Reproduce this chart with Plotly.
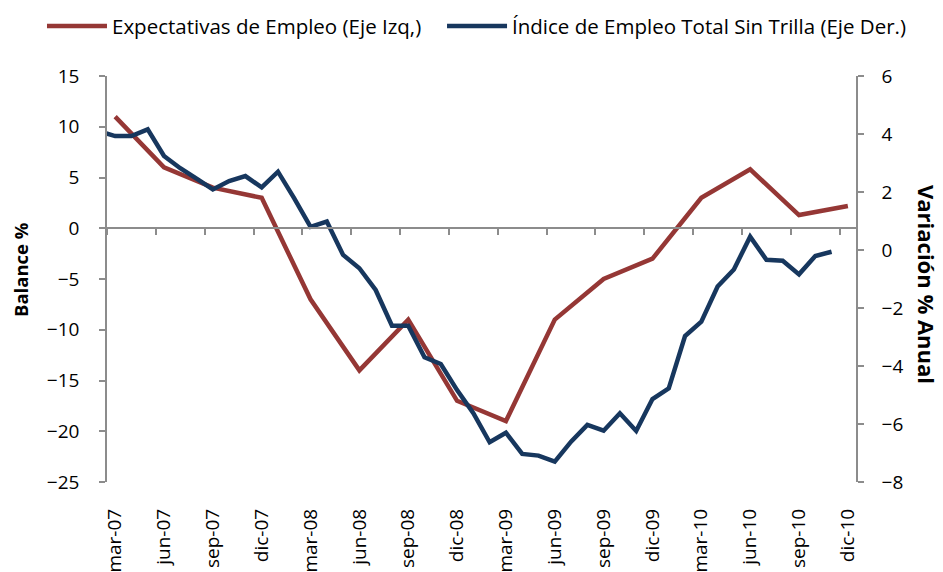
import plotly.graph_objects as go

# ---- data ----
months = ["feb-07",
          "mar-07", "abr-07", "may-07", "jun-07", "jul-07", "ago-07", "sep-07", "oct-07", "nov-07", "dic-07",
          "ene-08", "feb-08", "mar-08", "abr-08", "may-08", "jun-08", "jul-08", "ago-08", "sep-08", "oct-08", "nov-08", "dic-08",
          "ene-09", "feb-09", "mar-09", "abr-09", "may-09", "jun-09", "jul-09", "ago-09", "sep-09", "oct-09", "nov-09", "dic-09",
          "ene-10", "feb-10", "mar-10", "abr-10", "may-10", "jun-10", "jul-10", "ago-10", "sep-10", "oct-10", "nov-10", "dic-10"]

tick_labels = ["mar-07", "jun-07", "sep-07", "dic-07", "mar-08", "jun-08", "sep-08", "dic-08",
               "mar-09", "jun-09", "sep-09", "dic-09", "mar-10", "jun-10", "sep-10", "dic-10"]

# Expectativas de Empleo (quarterly, left axis)
expect_months = tick_labels
expect_values = [11, 6, 4, 3, -7, -14, -9, -17, -19, -9, -5, -3, 3, 5.8, 1.3, 2.2]

# Índice de Empleo Total Sin Trilla (monthly, right axis)
index_months = months[:46]
index_values = [4.1,
                3.93, 3.93, 4.16, 3.24, 2.82, 2.46, 2.09, 2.38, 2.55, 2.16,
                2.70, 1.78, 0.80, 0.98, -0.17, -0.63, -1.38, -2.61, -2.61, -3.70, -3.93, -4.83,
                -5.63, -6.63, -6.30, -7.03, -7.09, -7.30, -6.61, -6.03, -6.23, -5.63, -6.24, -5.14,
                -4.77, -2.97, -2.47, -1.26, -0.67, 0.46, -0.34, -0.37, -0.84, -0.21, -0.06]

RED = "#953735"
BLUE = "#17375E"
AXIS = "#8C8C8C"
FONT = "Open Sans"
TICK_SIZE = 19
LEGEND_SIZE = 20.5

fig = go.Figure()
fig.add_trace(go.Scatter(x=expect_months, y=expect_values, mode="lines",
                         name="Expectativas de Empleo (Eje Izq,)",
                         line=dict(color=RED, width=4.5), yaxis="y", legend="legend"))
fig.add_trace(go.Scatter(x=index_months, y=index_values, mode="lines",
                         name="Índice de Empleo Total Sin Trilla (Eje Der.)",
                         line=dict(color=BLUE, width=4.5), yaxis="y2", legend="legend2"))
# helper (no data) trace so the zero-crossing category axis is drawn
fig.add_trace(go.Scatter(x=[0.5, 46.5], y=[None, None], mode="lines", xaxis="x2", yaxis="y",
                         showlegend=False, hoverinfo="skip"))

boundaries = [0.5 + 3 * k for k in range(16)]

legend_common = dict(orientation="h", xanchor="left", y=1.123, yanchor="middle",
                     font=dict(family=FONT, size=LEGEND_SIZE), itemwidth=60,
                     bgcolor="rgba(0,0,0,0)")

fig.update_layout(
    width=935, height=564,
    margin=dict(l=99, r=87, t=68, b=90, autoexpand=False),
    paper_bgcolor="white", plot_bgcolor="white",
    font=dict(family=FONT, size=TICK_SIZE, color="black"),
    showlegend=True,
    legend=dict(x=-0.0868, **legend_common),
    legend2=dict(x=0.4473, **legend_common),
    xaxis=dict(type="category", categoryorder="array", categoryarray=months,
               range=[0.5, 46.5], tickmode="array", tickvals=tick_labels, ticktext=tick_labels,
               tickangle=-90, showline=False, ticks="", showgrid=False, zeroline=False,
               ticklabelstandoff=22, tickfont=dict(size=TICK_SIZE)),
    xaxis2=dict(type="linear", overlaying="x", anchor="free", position=0.625,
                range=[0.5, 46.5], tickmode="array", tickvals=boundaries,
                showticklabels=False, ticks="outside", ticklen=6, tickwidth=1.5, tickcolor=AXIS,
                showline=True, linecolor=AXIS, linewidth=1.5, showgrid=False, zeroline=False),
    yaxis=dict(range=[-25, 15], dtick=5, tick0=0, showgrid=False, zeroline=False,
               showline=True, linecolor=AXIS, linewidth=1.5, ticks="outside", ticklen=6,
               tickwidth=1.5, tickcolor=AXIS, tickfont=dict(size=TICK_SIZE), ticklabelstandoff=16),
    yaxis2=dict(range=[-8, 6], dtick=2, tick0=0, overlaying="y", side="right", anchor="x",
                showgrid=False, zeroline=False, showline=True, linecolor=AXIS, linewidth=1.5,
                ticks="outside", ticklen=6, tickwidth=1.5, tickcolor=AXIS,
                tickfont=dict(size=TICK_SIZE), ticklabelstandoff=14),
    annotations=[
        dict(text="<b>Balance %</b>", xref="paper", yref="paper",
             x=(20 - 107) / 749, y=(482 - 270) / 406, xanchor="center", yanchor="middle",
             textangle=-90, showarrow=False, font=dict(family=FONT, size=18.5)),
        dict(text="<b>Variación % Anual</b>", xref="paper", yref="paper",
             x=(927 - 107) / 749, y=(482 - 284) / 406, xanchor="center", yanchor="middle",
             textangle=90, showarrow=False, font=dict(family=FONT, size=22)),
    ],
)

fig.write_html("out.html")
